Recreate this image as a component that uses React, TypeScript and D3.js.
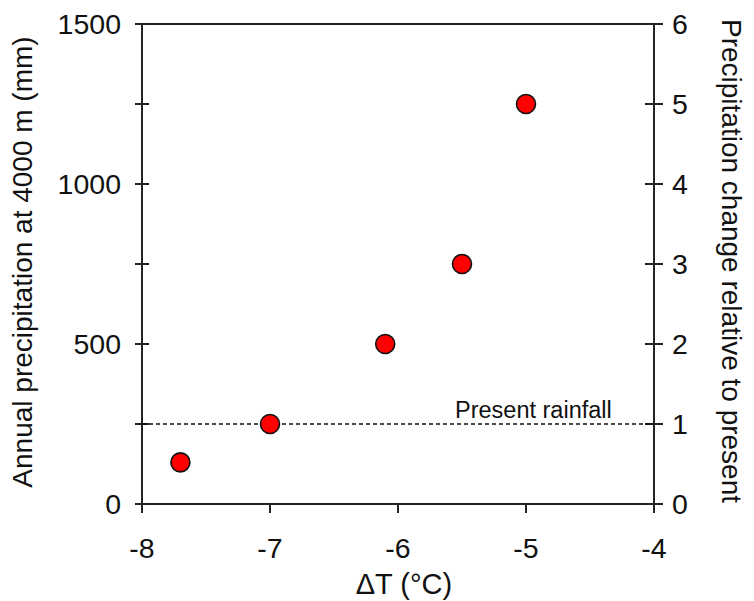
import React from "react";
import * as d3 from "d3";

const deltaT = [-7.7, -7, -6.1, -5.5, -5];
const precip = [130, 250, 500, 750, 1250];
const xTicks = [-8, -7, -6, -5, -4];
const yLeftTicks = [0, 250, 500, 750, 1000, 1250, 1500];
const yLeftLabels = [0, 500, 1000, 1500];
const yRightTicks = [0, 1, 2, 3, 4, 5, 6];
const presentRainfall = 250;

const W = 754;
const H = 601;
const M = { left: 142, right: 654, top: 24, bottom: 504 };
const FONT = "'Liberation Sans', Arial, sans-serif";

export default function App() {
  const x = d3.scaleLinear().domain([-8, -4]).range([M.left, M.right]);
  const y = d3.scaleLinear().domain([0, 1500]).range([M.bottom, M.top]);
  const y2 = d3.scaleLinear().domain([0, 6]).range([M.bottom, M.top]);
  const axisColor = "#222";
  const sw = 2;
  return (
    <svg
      width={W}
      height={H}
      style={{ position: "absolute", left: 0, top: 0, background: "#fff" }}
      fontFamily={FONT}
    >
      {/* frame lines */}
      <line x1={M.left} x2={M.right} y1={M.top} y2={M.top} stroke={axisColor} strokeWidth={sw} />
      <line x1={M.left} x2={M.right} y1={M.bottom} y2={M.bottom} stroke={axisColor} strokeWidth={sw} />
      <line x1={M.left} x2={M.left} y1={M.top} y2={M.bottom} stroke={axisColor} strokeWidth={sw} />
      <line x1={M.right} x2={M.right} y1={M.top} y2={M.bottom} stroke={axisColor} strokeWidth={sw} />

      {/* left ticks */}
      {yLeftTicks.map((t) => (
        <line key={"lt" + t} x1={M.left - 7} x2={M.left + 7} y1={y(t)} y2={y(t)} stroke={axisColor} strokeWidth={sw} />
      ))}
      {yLeftLabels.map((t) => (
        <text key={"ll" + t} x={121} y={y(t)} dy="0.36em" textAnchor="end" fontSize={28.5} fill="#111">
          {t}
        </text>
      ))}

      {/* right ticks */}
      {yRightTicks.map((t) => (
        <g key={"rt" + t}>
          <line x1={M.right - 9} x2={M.right + 9} y1={y2(t)} y2={y2(t)} stroke={axisColor} strokeWidth={sw} />
          <text x={672} y={y2(t)} dy="0.36em" textAnchor="start" fontSize={28.5} fill="#111">
            {t}
          </text>
        </g>
      ))}

      {/* x ticks */}
      {xTicks.map((t) => (
        <g key={"xt" + t}>
          <line x1={x(t)} x2={x(t)} y1={M.bottom} y2={M.bottom + 9} stroke={axisColor} strokeWidth={sw} />
          <text x={x(t)} y={558} textAnchor="middle" fontSize={28.5} fill="#111">
            {t}
          </text>
        </g>
      ))}

      {/* present rainfall line */}
      <line
        x1={M.left}
        x2={M.right}
        y1={y(presentRainfall)}
        y2={y(presentRainfall)}
        stroke="#111"
        strokeWidth={1.6}
        strokeDasharray="4,3"
      />
      <text x={455} y={418} fontSize={23.5} fill="#111">
        Present rainfall
      </text>

      {/* points */}
      {deltaT.map((d, i) => (
        <circle key={"p" + i} cx={x(d)} cy={y(precip[i])} r={9.5} fill="#ff0000" stroke="#111" strokeWidth={1.6} />
      ))}

      {/* axis titles */}
      <text x={404} y={594} textAnchor="middle" fontSize={29} fill="#111">
        ΔT (°C)
      </text>
      <text
        transform={`translate(32, ${(M.top + M.bottom) / 2 - 2}) rotate(-90)`}
        textAnchor="middle"
        fontSize={28}
        fill="#111"
      >
        Annual precipitation at 4000 m (mm)
      </text>
      <text
        transform={`translate(722, ${(M.top + M.bottom) / 2 - 3}) rotate(90)`}
        textAnchor="middle"
        fontSize={28}
        fill="#111"
      >
        Precipitation change relative to present
      </text>
    </svg>
  );
}
